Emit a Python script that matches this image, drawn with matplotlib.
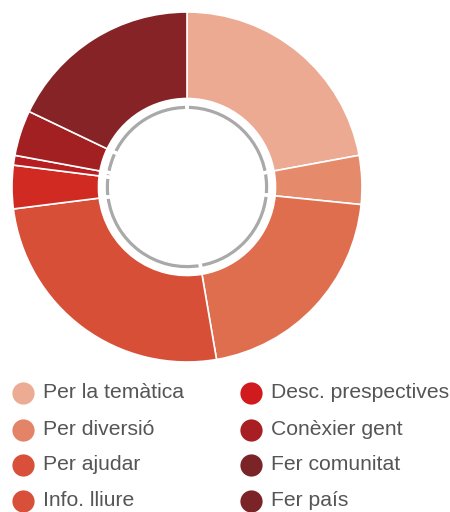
import matplotlib
matplotlib.use("Agg")
import matplotlib.pyplot as plt

labels = ["Per la temàtica", "Per diversió", "Per ajudar", "Info. lliure",
          "Desc. prespectives", "Conèxier gent", "Fer comunitat", "Fer país"]
values = [22.1, 4.5, 20.7, 25.7, 4.0, 0.9, 4.2, 17.9]
slice_colors = ["#ecaa92", "#e68a6c", "#df6e4f", "#d84f37",
                "#d02a22", "#b81e21", "#a21f22", "#862326"]
legend_colors = ["#ecab93", "#e38368", "#d8503a", "#d8503a",
                 "#d01a1e", "#a81f23", "#7b2428", "#7b2428"]

W, H = 450, 512
fig = plt.figure(figsize=(W / 100, H / 100), dpi=100)
fig.patch.set_facecolor("white")

cx, cy, R = 187, 187, 175
ax = fig.add_axes([(cx - R) / W, (H - cy - R) / H, 2 * R / W, 2 * R / H])
ax.pie(values, colors=slice_colors, startangle=90, counterclock=False,
       radius=1.0, wedgeprops=dict(width=1 - 88.5 / R, edgecolor="white", linewidth=1.2))
# thin grey ring
ax.pie(values, colors=["#a9a9a9"] * len(values), startangle=90, counterclock=False,
       radius=81.2 / R, wedgeprops=dict(width=3.2 / R, linewidth=0))
# white radial cuts through the grey ring
ax.pie(values, colors=["none"] * len(values), startangle=90, counterclock=False,
       radius=85 / R, wedgeprops=dict(width=12 / R, facecolor="none",
                                      edgecolor="white", linewidth=2.5))
ax.set_xlim(-1, 1)
ax.set_ylim(-1, 1)
ax.set_aspect("equal")
ax.axis("off")

lax = fig.add_axes([0, 0, 1, 1])
lax.set_xlim(0, W)
lax.set_ylim(H, 0)
lax.axis("off")
row_y = [393, 429.5, 465, 501]
col_x = [23, 251]
for i, (lab, col) in enumerate(zip(labels, legend_colors)):
    c = i // 4
    r = i % 4
    lax.scatter([col_x[c]], [row_y[r]], s=16 ** 2, color=col, marker="o", linewidths=0)
    lax.text(col_x[c] + 20, row_y[r], lab, fontsize=15.2, color="#555555",
             va="center", ha="left", family="Liberation Sans")

fig.savefig("out.png", dpi=100)
